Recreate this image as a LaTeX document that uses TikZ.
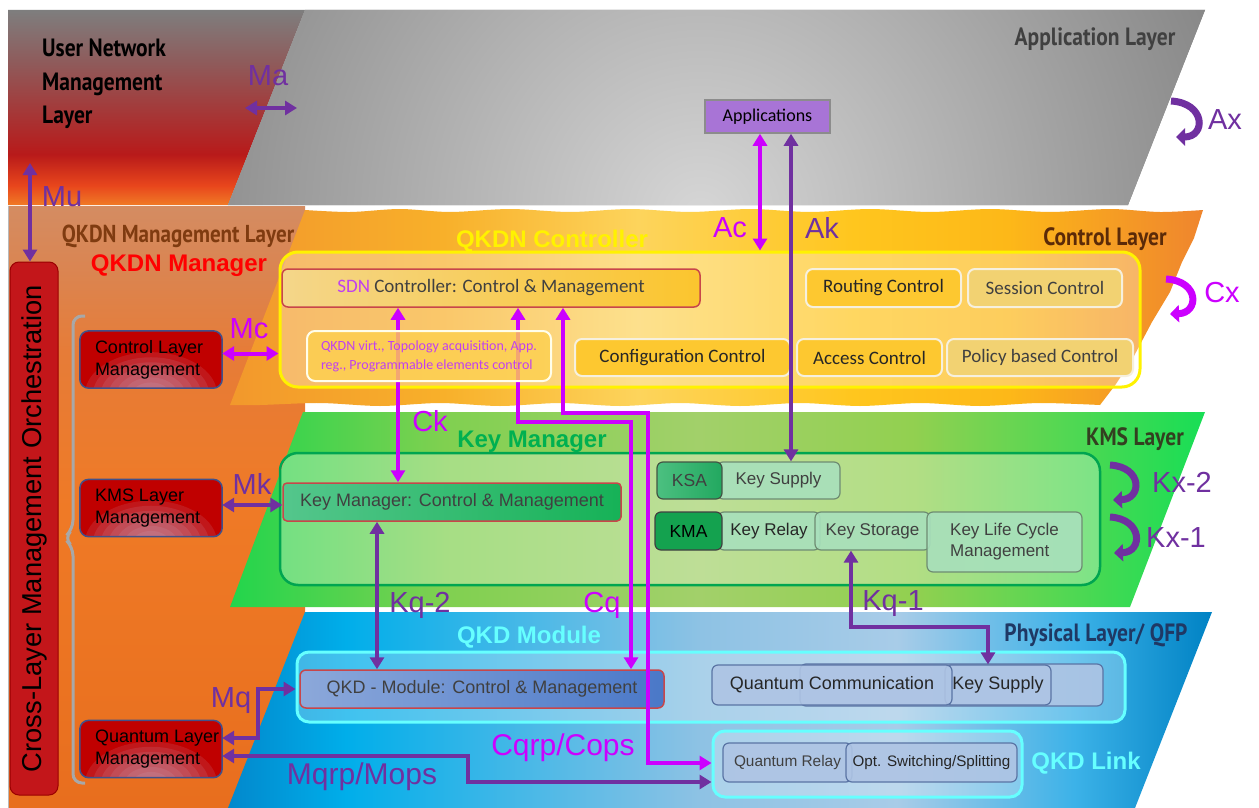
\documentclass[tikz,border=0pt]{standalone}
\usepackage{fontspec}
\setmainfont{Liberation Sans}
\newfontfamily\calfont{Carlito}
\newfontfamily\dinfont[FakeStretch=0.86]{PT Sans}
\usetikzlibrary{arrows.meta,calc}

\definecolor{magc}{HTML}{CC00FF}
\definecolor{purc}{HTML}{7030A0}
\definecolor{txtdark}{HTML}{262626}
\definecolor{txtgray}{HTML}{404040}
% user network management layer
\definecolor{unmA}{HTML}{F07A26}
\definecolor{unmB}{HTML}{E8461C}
\definecolor{unmC}{HTML}{B81A1A}
\definecolor{unmD}{HTML}{8E5C5C}
\definecolor{unmE}{HTML}{7E7E7E}
\pgfdeclareverticalshading{unmshade}{100bp}{color(0bp)=(unmA); color(25bp)=(unmA); color(30bp)=(unmB); color(38bp)=(unmC); color(62bp)=(unmD); color(75bp)=(unmE); color(100bp)=(unmE)}
% QKDN management band
\definecolor{moA}{HTML}{E86E1E}
\definecolor{moB}{HTML}{EF7A26}
\definecolor{moC}{HTML}{E67C38}
\definecolor{moD}{HTML}{DA8552}
\definecolor{moE}{HTML}{D48C62}
\pgfdeclareverticalshading{moshade}{100bp}{color(0bp)=(moA); color(25bp)=(moA); color(50bp)=(moB); color(63bp)=(moC); color(70bp)=(moD); color(75bp)=(moE); color(100bp)=(moE)}
% control layer
\definecolor{ctA}{HTML}{F2982C}
\definecolor{ctB}{HTML}{F8B02A}
\definecolor{ctC}{HTML}{FDD45C}
\definecolor{ctD}{HTML}{FFC61E}
\definecolor{ctE}{HTML}{FDB818}
\definecolor{ctF}{HTML}{EF852E}
\pgfdeclarehorizontalshading{ctshade}{100bp}{color(0bp)=(ctA); color(25bp)=(ctA); color(36bp)=(ctB); color(46bp)=(ctC); color(57bp)=(ctD); color(65bp)=(ctE); color(75bp)=(ctF); color(100bp)=(ctF)}
% KMS layer
\definecolor{kmA}{HTML}{22D54C}
\definecolor{kmB}{HTML}{80D050}
\definecolor{kmC}{HTML}{A2D06A}
\definecolor{kmD}{HTML}{92D050}
\definecolor{kmE}{HTML}{18DE55}
\pgfdeclarehorizontalshading{kmshade}{100bp}{color(0bp)=(kmA); color(25bp)=(kmA); color(36bp)=(kmB); color(49bp)=(kmC); color(60bp)=(kmD); color(75bp)=(kmE); color(100bp)=(kmE)}
% physical layer
\definecolor{phA}{HTML}{0288CC}
\definecolor{phB}{HTML}{00AEEA}
\definecolor{phC}{HTML}{8EC2E4}
\definecolor{phD}{HTML}{A8CCE8}
\definecolor{phE}{HTML}{3CB2E8}
\definecolor{phF}{HTML}{0082C4}
\pgfdeclarehorizontalshading{phshade}{100bp}{color(0bp)=(phA); color(25bp)=(phA); color(31bp)=(phB); color(49bp)=(phC); color(59bp)=(phD); color(68bp)=(phE); color(75bp)=(phF); color(100bp)=(phF)}
% application layer
\definecolor{appgray}{HTML}{868686}
\definecolor{appin}{HTML}{D6D6D6}
% boxes
\definecolor{mgmtred}{HTML}{C00000}
\definecolor{mgmtlight}{HTML}{C9B8CF}
\definecolor{mgmtedge}{HTML}{41508A}
\definecolor{orchred}{HTML}{C3161A}
\definecolor{bracketgray}{HTML}{A8A8A8}
\definecolor{appsfill}{HTML}{A874D6}
\definecolor{redline}{HTML}{C8464A}
\definecolor{sdnL}{HTML}{F4D68A}
\definecolor{sdnR}{HTML}{FBC52E}
\definecolor{goldfill}{HTML}{FDC830}
\definecolor{paleGold}{HTML}{F2D272}
\definecolor{boxedge}{HTML}{F6F0DE}
\definecolor{virtmag}{HTML}{C040F0}
\definecolor{kmline}{HTML}{00A550}
\definecolor{kmcmL}{HTML}{54C68C}
\definecolor{kmcmR}{HTML}{16B257}
\definecolor{ksaL}{HTML}{4CC080}
\definecolor{ksaR}{HTML}{22A860}
\definecolor{kmaF}{HTML}{14A24F}
\definecolor{kedge}{HTML}{6E8C72}
\definecolor{klight}{HTML}{A8E0BC}
\definecolor{cyanline}{HTML}{66FFFF}
\definecolor{qmL}{HTML}{8CA8DA}
\definecolor{qmR}{HTML}{4A78C8}
\definecolor{qedge}{HTML}{5A74A4}
\definecolor{qlight}{HTML}{AEC4E4}
\definecolor{qmgmtbrown}{HTML}{7F3B10}
\definecolor{ctrlbrown}{HTML}{5B2A08}
\definecolor{kmsdark}{HTML}{334020}
\definecolor{phydark}{HTML}{1F3864}
\definecolor{kmgreen}{HTML}{00B050}

% soft glow at the lower middle of a management box (stacked translucent ellipses), then its frame
\newcommand\mgmtglow[1]{%
  \begin{scope}
    \clip[rounded corners=9pt] (#1.south west) rectangle (#1.north east);
    \foreach \r in {1,0.88,0.76,0.64,0.52,0.40,0.28,0.16}
      \fill[mgmtlight, opacity=0.13] ([yshift=-6pt]#1.south) ellipse ({66*\r} and {42*\r});
  \end{scope}
  \draw[mgmtedge, line width=1.5pt, rounded corners=9pt] (#1.south west) rectangle (#1.north east);}

\begin{document}
\begin{tikzpicture}[x=1pt,y=-1pt,
  >={Triangle[length=12pt,width=14pt]},
  lbl/.style={font=\fontsize{29}{29}\selectfont, inner sep=0pt},
  ttl/.style={font=\dinfont\bfseries\fontsize{25}{25}\selectfont, inner sep=0pt},
  hd/.style={font=\bfseries\fontsize{24}{24}\selectfont, inner sep=0pt},
  box/.style={rectangle, inner sep=0pt, text opacity=1},
  magline/.style={draw=magc, line width=4pt},
  purline/.style={draw=purc, line width=4pt},
  selfarrow/.style={line width=7pt, -{Triangle[length=9pt,width=17pt]}},
  mgmtbox/.style={box, fill=mgmtred, rounded corners=9pt, minimum width=142pt, minimum height=57pt},
  mgmttext/.style={inner sep=0pt, anchor=west, align=left, font=\fontsize{18}{22}\selectfont},
  outerbox/.style={box, rounded corners=18pt, fill=white, fill opacity=0.3},
  calbox/.style={box, font=\calfont\fontsize{19}{22}\selectfont},
  goldbox/.style={calbox, draw=boxedge, line width=2pt, rounded corners=7pt, fill=goldfill, text=txtdark},
  paleBox/.style={calbox, draw=boxedge, line width=2pt, rounded corners=7pt, fill=paleGold, text=txtgray},
  kbox/.style={box, draw=kedge, line width=1.2pt, rounded corners=6pt, fill=klight, fill opacity=0.9,
    font=\fontsize{17}{20}\selectfont, text=txtgray},
  qbox/.style={box, draw=qedge, line width=1.2pt, rounded corners=6pt, fill=qlight, fill opacity=0.9,
    text=txtdark}
]
\useasboundingbox (0,0) rectangle (1259,808);
\fill[white] (0,0) rectangle (1259,808);

% ---------- layer bands ----------
\shade[shading=moshade] (8,206) rectangle (305,808);
\draw[gray!55, line width=0.8pt] (8,206) -- (8,808);
\shade[shading=unmshade] (8,10) -- (305,10) -- (228,205) -- (8,205) -- cycle;
\begin{scope}
  \clip (305,10) -- (1205,10) -- (1128,205) -- (228,205) -- cycle;
  \fill[appgray] (200,0) rectangle (1260,210);
  \shade[inner color=appin, outer color=appgray] (700,215) circle (560pt);
\end{scope}
\shade[shading=ctshade]
  plot[smooth] coordinates {(305,210) (350,212) (400,209) (450,212) (510,209) (570,212) (630,209)
     (690,212) (750,209) (810,212) (870,209) (930,212) (990,209) (1050,212) (1110,209) (1160,212) (1203,210)}
  -- (1194,238) -- (1182,262) -- (1170,292) -- (1152,322) -- (1134,356) -- (1116,384) -- (1100,405)
  -- plot[smooth] coordinates {(1100,405) (1040,403) (980,406) (920,403) (860,406) (800,403) (740,406)
     (680,403) (620,406) (560,403) (500,406) (440,403) (380,406) (320,403) (260,405) (230,405)}
  -- cycle;
\shade[shading=kmshade] (303,412) -- (1205,412) -- (1130,607) -- (230,607) -- cycle;
\shade[shading=phshade] (305,612) -- (1212,612) -- (1135,808) -- (228,808) -- cycle;

% ---------- management column ----------
\node[box, draw=mgmtred!80!black, line width=1pt, fill=orchred, rounded corners=9pt,
      minimum width=48pt, minimum height=533pt] (orch) at (34,528.5) {};
\node[rotate=90, inner sep=0pt, font=\fontsize{27.3}{27.3}\selectfont] (orchtext) at (orch.center)
  {Cross-Layer Management Orchestration};
\draw[bracketgray, line width=3pt, rounded corners=9pt]
  (85,316) -- (73,316) -- (73,529) -- (64,538) -- (73,547) -- (73,783) -- (85,783);

\node[mgmtbox] (clm) at (151,359.5) {};
\mgmtglow{clm}
\node[mgmttext] (clmtext) at ([xshift=15pt]clm.west) {Control Layer\\Management};
\node[mgmtbox] (klm) at (151,508) {};
\mgmtglow{klm}
\node[mgmttext] (klmtext) at ([xshift=15pt]klm.west) {KMS Layer\\Management};
\node[mgmtbox] (qlm) at (151,749) {};
\mgmtglow{qlm}
\node[mgmttext] (qlmtext) at ([xshift=15pt]qlm.west) {Quantum Layer\\Management};

% ---------- containers ----------
\node[box, draw=gray!90, line width=1.5pt, fill=appsfill, minimum width=125pt, minimum height=33pt,
      font=\calfont\fontsize{18}{20}\selectfont] (apps) at (767.5,116.5) {Applications};
\node[outerbox, draw=yellow, line width=3pt, minimum width=860pt, minimum height=135pt] (ctrl) at (710,319.5) {};
\node[outerbox, draw=kmline, line width=2.5pt, minimum width=820pt, minimum height=132pt] (km) at (690,519) {};
\node[outerbox, draw=cyanline, line width=3pt, rounded corners=12pt, fill opacity=0.25,
      minimum width=828pt, minimum height=70pt] (qmod) at (711,687) {};
\node[outerbox, draw=cyanline, line width=3pt, rounded corners=12pt, fill opacity=0.25,
      minimum width=309pt, minimum height=66pt] (qlink) at (867.5,764) {};

% ---------- control layer boxes ----------
\node[calbox, draw=redline, line width=1.5pt, rounded corners=6pt, left color=sdnL, right color=sdnR,
      minimum width=418pt, minimum height=38pt, text=txtgray] (sdn) at (491,288)
  {\textcolor{virtmag}{SDN} Controller: Control \& Management};
\node[goldbox] (routing) at (883.5,288) [minimum width=155pt, minimum height=38pt] {Routing Control};
\node[paleBox] (session) at (1045,288) [minimum width=154pt, minimum height=38pt] {Session Control};
\node[goldbox] (conf) at (682.5,357.5) [minimum width=215pt, minimum height=37pt] {Configuration Control};
\node[goldbox] (access) at (869.5,357.5) [minimum width=145pt, minimum height=37pt] {Access Control};
\node[paleBox] (policy) at (1040,357.5) [minimum width=186pt, minimum height=37pt] {Policy based Control};

% ---------- KMS boxes ----------
\node[box, draw=redline, line width=1.5pt, rounded corners=4pt, left color=kmcmL, right color=kmcmR,
      minimum width=338pt, minimum height=38pt, text=txtgray, font=\fontsize{18}{21}\selectfont]
  (kmcm) at (452,502) {Key Manager: Control \& Management};
\node[kbox, minimum width=123pt, minimum height=37pt] (ksup) at (778.5,480.5) {Key Supply};
\node[box, draw=kedge!60!black, line width=1.2pt, rounded corners=6pt, left color=ksaL, right color=ksaR,
      minimum width=65pt, minimum height=37pt, text=txtgray, font=\fontsize{17.5}{20}\selectfont]
  (ksa) at (689.5,480.5) {KSA};
\node[kbox, minimum width=102pt, minimum height=38pt, text=txtdark] (krel) at (769,531) {Key Relay};
\node[kbox, minimum width=115pt, minimum height=38pt] (kstor) at (872.5,531) {Key Storage};
\node[kbox, minimum width=155pt, minimum height=60pt, align=left, font=\fontsize{17}{21}\selectfont]
  (klcm) at (1004.5,542) {Key Life Cycle\\Management};
\node[box, draw=black!75, line width=1.2pt, rounded corners=6pt, fill=kmaF,
      minimum width=67pt, minimum height=38pt, text=black, font=\fontsize{17.5}{20}\selectfont]
  (kma) at (688.5,531) {KMA};

% ---------- physical layer boxes ----------
\node[box, draw=redline, line width=1.5pt, rounded corners=6pt, left color=qmL, right color=qmR,
      minimum width=364pt, minimum height=38pt, text=txtgray, font=\fontsize{18}{21}\selectfont]
  (qmcm) at (482,689) {QKD - Module: Control \& Management};
\node[qbox, minimum width=303pt, minimum height=42pt] (qback) at (951.5,685) {};
\node[qbox, minimum width=106pt, minimum height=40pt, font=\fontsize{18}{21}\selectfont] (ksup2) at (998,685) {Key Supply};
\node[qbox, minimum width=240pt, minimum height=40pt, font=\fontsize{18}{21}\selectfont] (qcomm) at (832,685) {Quantum Communication};
\node[qbox, minimum width=129pt, minimum height=39pt, text=txtgray, font=\fontsize{15.4}{18}\selectfont] (qrelay) at (787.5,762.5) {Quantum Relay};
\node[qbox, minimum width=171pt, minimum height=39pt, font=\fontsize{15.2}{18}\selectfont] (optsw) at (931.5,762.5) {Opt. Switching/Splitting};

% ---------- connectors ----------
\coordinate (mutop) at (30,163);
\draw[purline,<->] (orch.north -| mutop) -- (mutop);
\coordinate (maL) at (245,108);
\coordinate (maR) at (297,108);
\draw[purline,<->] (maL) -- (maR);
\draw[magline,<->] ([yshift=6pt]clm.east) -- ([yshift=6pt]clm.east -| ctrl.west);
\draw[purline,<->] ([yshift=3pt]klm.east) -- ([yshift=3pt]klm.east -| kmcm.west);
\coordinate (mqbend) at (258,0);
\draw[purline,line width=4.5pt,<->] ([yshift=11pt]qlm.east) -| (mqbend |- qmcm.west) -- (qmod.west |- qmcm.west);
\coordinate (mqrpbend) at (468,770);
\draw[purline,line width=4.5pt,<->] ([yshift=-7pt]qlm.east) -| (mqrpbend) |- ([yshift=-18pt]qlink.west);

\coordinate (acx) at (760,0);
\draw[magline,<->] (apps.south -| acx) -- (ctrl.north -| acx);
\coordinate (akx) at (791,0);
\draw[purline,<->] (apps.south -| akx) -- (ksup.north -| akx);

% control-layer links (partly behind the virtualisation box)
\coordinate (ckx) at (398,0);
\draw[magline,<->] (sdn.south -| ckx) -- (kmcm.north -| ckx);
\coordinate (cqA) at (518,422);
\coordinate (cqB) at (631,422);
\draw[magline,<->] (sdn.south -| cqA) -- (cqA) -- (cqB) -- (cqB |- qmcm.north);
\coordinate (cqrA) at (563,413);
\coordinate (cqrB) at (648,413);
\draw[magline,<->] (sdn.south -| cqrA) -- (cqrA) -- (cqrB) |- ([yshift=1pt]qlink.west);

\coordinate (kq2x) at (377,0);
\draw[purline,<->] (kmcm.south -| kq2x) -- (qmcm.north -| kq2x);
\coordinate (kqA) at (851,627);
\coordinate (kqB) at (988,627);
\draw[purline,<->] (kstor.south -| kqA) -- (kqA) -- (kqB) -- (kqB |- ksup2.north);

\node[box, draw=white!92!yellow, line width=2pt, rounded corners=8pt, fill=goldfill!85!white, fill opacity=0.8,
      minimum width=244pt, minimum height=50pt, align=left, text=virtmag,
      font=\calfont\fontsize{14}{19}\selectfont] (virt) at (429,356)
  {QKDN virt., Topology acquisition, App.\\reg., Programmable elements control};

% ---------- intra-layer loops ----------
\coordinate (axs) at (1171,101);
\coordinate (axe) at (1176,137);
\draw[selfarrow, purc] (axs) .. controls (1206,103) and (1206,137) .. (axe);
\coordinate (cxs) at (1166,279);
\coordinate (cxe) at (1170,314);
\draw[selfarrow, magc] (cxs) .. controls (1200,281) and (1199,313) .. (cxe);
\coordinate (kx2s) at (1110,465);
\coordinate (kx2e) at (1113,500);
\draw[selfarrow, purc] (kx2s) .. controls (1143,467) and (1142,499) .. (kx2e);
\coordinate (kx1s) at (1110,517);
\coordinate (kx1e) at (1114,553);
\draw[selfarrow, purc] (kx1s) .. controls (1143,519) and (1143,552) .. (kx1e);

% ---------- titles ----------
\node[ttl, anchor=west, align=left, font=\dinfont\bfseries\fontsize{25}{33.5}\selectfont] (unmtitle) at (42,84)
  {User Network\\Management\\Layer};
\node[ttl, text=txtgray] (apptitle) at (1095,39) {Application Layer};
\node[ttl, text=qmgmtbrown, font=\dinfont\bfseries\fontsize{24.5}{24.5}\selectfont] (mgttitle) at (178,236) {QKDN Management Layer};
\node[hd, text=red] (mgrtitle) at (179,266) {QKDN Manager};
\node[hd, text=yellow] (ctltitle) at (552,241) {QKDN Controller};
\node[ttl, text=ctrlbrown] (ctrltitle) at (1105,239) {Control Layer};
\node[hd, text=kmgreen] (kmtitle) at (532,442) {Key Manager};
\node[ttl, text=kmsdark] (kmstitle) at (1135,439) {KMS Layer};
\node[hd, text=cyanline] (qmtitle) at (529,637) {QKD Module};
\node[ttl, text=phydark] (phytitle) at (1096,635) {Physical Layer/ QFP};
\node[hd, text=cyanline] (qltitle) at (1086,763) {QKD Link};

% ---------- interface labels ----------
\node[lbl, text=purc] (lma) at (268,76) {Ma};
\node[lbl, text=purc] (lmu) at (62,197) {Mu};
\node[lbl, text=magc] (lmc) at (249,329) {Mc};
\node[lbl, text=purc] (lmk) at (252,484) {Mk};
\node[lbl, text=purc] (lmq) at (231,701) {Mq};
\node[lbl, text=purc, font=\fontsize{30}{30}\selectfont] (lmqrp) at (362,777) {Mqrp/Mops};
\node[lbl, text=magc, font=\fontsize{30}{30}\selectfont] (lcqrp) at (563,748) {Cqrp/Cops};
\node[lbl, text=magc] (lac) at (730,228) {Ac};
\node[lbl, text=purc] (lak) at (822,228) {Ak};
\node[lbl, text=magc] (lck) at (430,421) {Ck};
\node[lbl, text=magc] (lcq) at (602,605) {Cq};
\node[lbl, text=purc] (lkq2) at (420,605) {Kq-2};
\node[lbl, text=purc] (lkq1) at (893,604) {Kq-1};
\node[lbl, text=purc] (lax) at (1225,120) {Ax};
\node[lbl, text=magc] (lcx) at (1222,293) {Cx};
\node[lbl, text=purc] (lkx2) at (1182,482) {Kx-2};
\node[lbl, text=purc] (lkx1) at (1176,538) {Kx-1};
\end{tikzpicture}
\end{document}
